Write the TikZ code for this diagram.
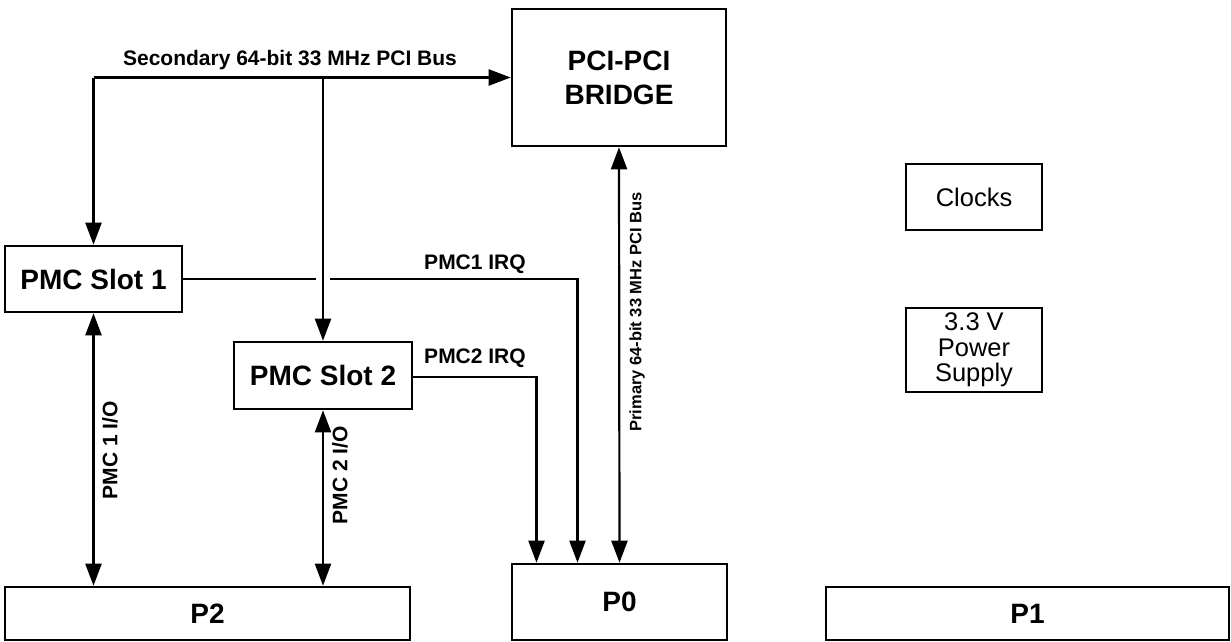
\documentclass[tikz,border=0pt]{standalone}
\usepackage{fontspec}
\setmainfont{Liberation Sans}
\usepackage{tikz}
\usetikzlibrary{arrows.meta, positioning}
\newcommand{\pcibig}{\fontsize{28}{30}\selectfont\bfseries}
\newcommand{\pcismall}{\fontsize{21}{23}\selectfont\bfseries}
\newcommand{\pcitiny}{\fontsize{16.5}{18}\selectfont\bfseries}
\newcommand{\pciplain}{\fontsize{25.5}{25.5}\selectfont}

\begin{document}
\begin{tikzpicture}[x=1pt, y=-1pt,
    card/.style={draw, line width=2.6pt, inner sep=0pt, font=\pcibig},
    aux/.style={draw, line width=1.7pt, inner sep=0pt, font=\pciplain, align=center,
        minimum width=136pt},
    bus/.style={line width=2.2pt, -{Triangle[length=22pt, width=16pt]}},
    dbus/.style={line width=2.2pt, {Triangle[length=22pt, width=16pt]}-{Triangle[length=22pt, width=16pt]}},
    sig/.style={line width=2.2pt}]

        \useasboundingbox (0,0) rectangle (1231,642);

        % ---------------- boxes ----------------
        \node[card, minimum width=214pt, minimum height=137pt, align=center]
            (bridge) at (619,77.5) {PCI-PCI\\[4pt]BRIDGE};
        \node[card, minimum width=177pt, minimum height=66pt] (pmcone) at (93.5,279) {PMC Slot 1};
        \node[card, minimum width=178pt, minimum height=67pt] (pmctwo) at (323,375.5) {PMC Slot 2};
        \node[card, minimum width=405pt, minimum height=53pt] (ptwo) at (207.5,613.5) {P2};
        \node[card, minimum width=215pt, minimum height=76pt] (pzero) at (619.5,602) {P0};
        \node[card, minimum width=403pt, minimum height=53pt] (pone) at (1027.5,613.5) {P1};
        \node[aux, minimum height=66pt] (clocks) at (974,197) {Clocks};
        \node[aux, minimum height=84pt] (power) at (974,350) {3.3 V\\Power\\Supply};

        % ---------------- secondary bus ----------------
        \coordinate (secbus) at (pmcone.north |- bridge.west);
        \draw[bus] (secbus) -- (bridge.west);
        \draw[bus] (secbus) -- (pmcone.north);
        \draw[bus] (pmctwo.north |- secbus) -- (pmctwo.north);
        \node[font=\pcismall] at (290,60) {Secondary 64-bit 33 MHz PCI Bus};

        % ---------------- interrupts ----------------
        \draw[sig] (pmcone.east) -- ([xshift=-7pt]pmctwo.north |- pmcone.east);
        \draw[bus] ([xshift=7pt]pmctwo.north |- pmcone.east) -| ([xshift=-42pt]pzero.north);
        \node[font=\pcismall] at (475,264) {PMC1 IRQ};
        \draw[bus] (pmctwo.east |- 0,377) -| ([xshift=-83pt]pzero.north);
        \node[font=\pcismall] at (475,358) {PMC2 IRQ};

        % ---------------- primary bus ----------------
        \draw[dbus] (bridge.south) -- (pzero.north);
        \node[font=\pcitiny, rotate=90] at (637,312) {Primary 64-bit 33 MHz PCI Bus};

        % ---------------- PMC I/O ----------------
        \draw[dbus] (pmcone.south) -- (pmcone.south |- ptwo.north);
        \node[font=\pcismall, rotate=90] at (110,450) {PMC 1 I/O};
        \draw[dbus] (pmctwo.south) -- (pmctwo.south |- ptwo.north);
        \node[font=\pcismall, rotate=90] at (340,475) {PMC 2 I/O};

    \end{tikzpicture}
\end{document}
